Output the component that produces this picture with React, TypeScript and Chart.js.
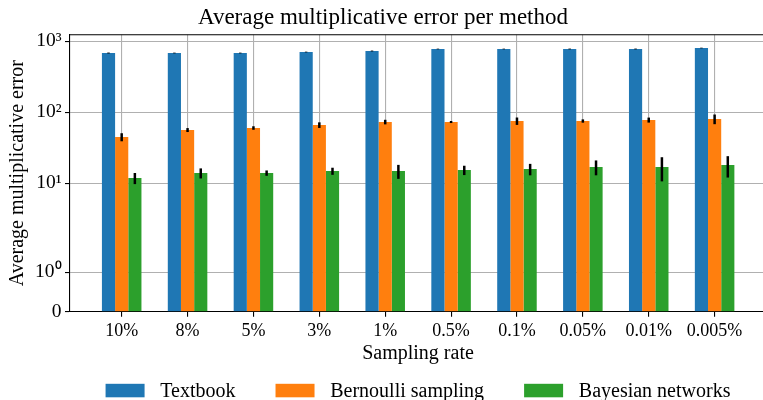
import React, { useEffect, useRef } from "react";
import { Chart, Scale, registerables } from "chart.js";

Chart.register(...registerables);

// ---------- data ----------
const CATEGORIES = ["10%", "8%", "5%", "3%", "1%", "0.5%", "0.1%", "0.05%", "0.01%", "0.005%"];
const SERIES_NAMES = ["Textbook", "Bernoulli sampling", "Bayesian networks"];
const TEXTBOOK = [681, 681, 681, 703, 727, 776, 776, 776, 776, 801];
const TEXTBOOK_ERR = [10, 8, 8, 8, 10, 8, 8, 10, 10, 8];
const BERNOULLI = [44.7, 56.1, 59.9, 65.9, 72.7, 72.7, 75.1, 75.1, 77.6, 80.2];
const BERNOULLI_ERR = [5.8, 3.6, 3.4, 6, 5.4, 2.4, 9, 4, 6.3, 12.5];
const BAYES = [11.8, 13.9, 13.9, 14.8, 14.8, 15.3, 15.8, 16.9, 16.9, 18.0];
const BAYES_ERR = [2.1, 2.25, 1.2, 1.7, 3.3, 2.3, 2.9, 4, 6.3, 6];
const Y_TICKS = [0, 1, 10, 100, 1000];
const Y_TICK_LABELS = ["0", "10\u2070", "10\u00b9", "10\u00b2", "10\u00b3"];
const COLORS = ["#1f77b4", "#ff7f0e", "#2ca02c"];

// ---------- symlog scale (matplotlib-like, linthresh 2) ----------
const LINTHRESH = 2;
const LINSCALE = 1;
const LINSCALE_ADJ = LINSCALE / (1 - 1 / 10);
function symT(v: number) {
  const a = Math.abs(v);
  if (a <= LINTHRESH) return v * LINSCALE_ADJ;
  return Math.sign(v) * LINTHRESH * (LINSCALE_ADJ + Math.log10(a / LINTHRESH));
}
function symInv(t: number) {
  const a = Math.abs(t);
  if (a <= LINTHRESH * LINSCALE_ADJ) return t / LINSCALE_ADJ;
  return Math.sign(t) * LINTHRESH * Math.pow(10, a / LINTHRESH - LINSCALE_ADJ);
}

class SymlogScale extends (Scale as any) {
  static id = "symlog";
  static defaults = {};
  parse(raw: any) {
    if (raw === null || raw === undefined) return null;
    const n = +raw;
    return isFinite(n) ? n : null;
  }
  determineDataLimits() {
    const self: any = this;
    const { min, max } = self.getMinMax(true);
    const o = self.options;
    self.min = o.min !== undefined ? o.min : isFinite(min) ? Math.min(0, min) : 0;
    self.max = o.max !== undefined ? o.max : isFinite(max) ? max : 1;
  }
  buildTicks() {
    const self: any = this;
    return Y_TICKS.filter((v) => v >= self.min && v <= self.max).map((v) => ({ value: v }));
  }
  getLabelForValue(v: number) {
    return String(v);
  }
  configure() {
    const self: any = this;
    super.configure();
    self._tmin = symT(self.min);
    self._tmax = symT(self.max);
  }
  getPixelForValue(v: number) {
    const self: any = this;
    if (v === null || v === undefined || isNaN(v)) return NaN;
    return self.getPixelForDecimal((symT(v) - self._tmin) / (self._tmax - self._tmin));
  }
  getValueForPixel(p: number) {
    const self: any = this;
    return symInv(self._tmin + self.getDecimalForPixel(p) * (self._tmax - self._tmin));
  }
}
Chart.register(SymlogScale as any);

const ERRORS = [TEXTBOOK_ERR, BERNOULLI_ERR, BAYES_ERR];

const errorBarPlugin = {
  id: "errorBars",
  afterDatasetsDraw(chart: any) {
    const { ctx } = chart;
    const yScale = chart.scales.y;
    ctx.save();
    ctx.strokeStyle = "#000";
    ctx.lineWidth = 2.5;
    chart.data.datasets.forEach((ds: any, di: number) => {
      const meta = chart.getDatasetMeta(di);
      meta.data.forEach((el: any, i: number) => {
        const v = ds.data[i].y;
        const e = ERRORS[di][i];
        const y1 = yScale.getPixelForValue(v + e);
        const y2 = yScale.getPixelForValue(Math.max(0, v - e));
        ctx.beginPath();
        ctx.moveTo(el.x, y1);
        ctx.lineTo(el.x, y2);
        ctx.stroke();
      });
    });
    ctx.restore();
  },
};

const frameAndLegendPlugin = {
  id: "frameLegend",
  afterDraw(chart: any) {
    const { ctx, chartArea } = chart;
    ctx.save();
    // top spine
    ctx.strokeStyle = "#000";
    ctx.lineWidth = 1.1;
    ctx.beginPath();
    ctx.moveTo(chartArea.left, chartArea.top);
    ctx.lineTo(chartArea.right, chartArea.top);
    ctx.stroke();
    // legend (matplotlib style, 3 columns, centred under axes)
    ctx.font = "20px 'Liberation Serif'";
    const boxW = 39;
    const boxH = 13.5;
    const gapBoxText = 15.7;
    const gapItems = 40;
    const widths = chart.data.datasets.map((d: any) => ctx.measureText(d.label).width);
    const total =
      widths.reduce((a: number, w: number) => a + boxW + gapBoxText + w, 0) + gapItems * (widths.length - 1);
    let x = (chartArea.left + chartArea.right) / 2 - total / 2;
    const baseline = 397.3;
    chart.data.datasets.forEach((d: any, i: number) => {
      ctx.fillStyle = d.backgroundColor;
      ctx.fillRect(x, baseline - boxH, boxW, boxH);
      ctx.fillStyle = "#000";
      ctx.textBaseline = "alphabetic";
      ctx.textAlign = "left";
      ctx.fillText(d.label, x + boxW + gapBoxText, baseline);
      x += boxW + gapBoxText + widths[i] + gapItems;
    });
    ctx.restore();
  },
};

export default function App() {
  const ref = useRef<HTMLCanvasElement>(null);
  useEffect(() => {
    if (!ref.current) return;
    Chart.defaults.font.family = "'Liberation Serif', serif";
    Chart.defaults.color = "#000";
    const values = [TEXTBOOK, BERNOULLI, BAYES];
    const chart = new Chart(ref.current, {
      type: "bar",
      data: {
        datasets: SERIES_NAMES.map((name, si) => ({
          label: name,
          data: values[si].map((v, i) => ({ x: i, y: v })),
          backgroundColor: COLORS[si],
          borderWidth: 0,
          categoryPercentage: 0.6,
          barPercentage: 1,
        })),
      },
      options: {
        animation: false,
        responsive: true,
        maintainAspectRatio: false,
        layout: { padding: 0 },
        plugins: {
          legend: { display: false },
          tooltip: { enabled: false },
          title: {
            display: true,
            text: "Average multiplicative error per method",
            font: { size: 23, weight: "normal" },
            color: "#000",
            padding: { top: 4, bottom: 3.1 },
          },
        },
        scales: {
          x: {
            type: "linear",
            min: -0.7845,
            max: 9.78,
            offset: false,
            grid: { color: "#b0b0b0", lineWidth: 1.1, offset: false, tickLength: 5, tickColor: "#000", tickWidth: 1.1 },
            border: { color: "#000", width: 1.1 },
            afterBuildTicks: (s: any) => {
              s.ticks = CATEGORIES.map((_, i) => ({ value: i }));
            },
            afterFit: (s: any) => {
              s.height = 88.3;
            },
            ticks: {
              font: { size: 18 },
              padding: 4,
              maxRotation: 0,
              autoSkip: false,
              callback: (v: any) => CATEGORIES[v as number],
            },
            title: {
              display: true,
              text: "Sampling rate",
              font: { size: 20 },
              padding: { top: 0, bottom: 34 },
            },
          },
          y: {
            type: "symlog" as any,
            min: 0,
            max: 1233,
            grid: { color: "#b0b0b0", lineWidth: 1.1, tickLength: 5, tickColor: "#000", tickWidth: 1.1 },
            border: { color: "#000", width: 1.1 },
            afterFit: (s: any) => {
              s.width = 70;
            },
            ticks: {
              font: { size: 19.5 },
              padding: 3.5,
              autoSkip: false,
              callback: (v: any) => Y_TICK_LABELS[Y_TICKS.indexOf(v as number)],
            },
            title: {
              display: true,
              text: "Average multiplicative error",
              font: { size: 20 },
              padding: { top: 6, bottom: 0 },
            },
          } as any,
        },
      },
      plugins: [errorBarPlugin, frameAndLegendPlugin],
    } as any);
    return () => chart.destroy();
  }, []);
  return (
    <div style={{ position: "absolute", left: 0, top: 0, width: 763, height: 400, overflow: "hidden", background: "#fff" }}>
      <div style={{ position: "relative", width: 766, height: 400 }}>
        <canvas ref={ref} />
      </div>
    </div>
  );
}
